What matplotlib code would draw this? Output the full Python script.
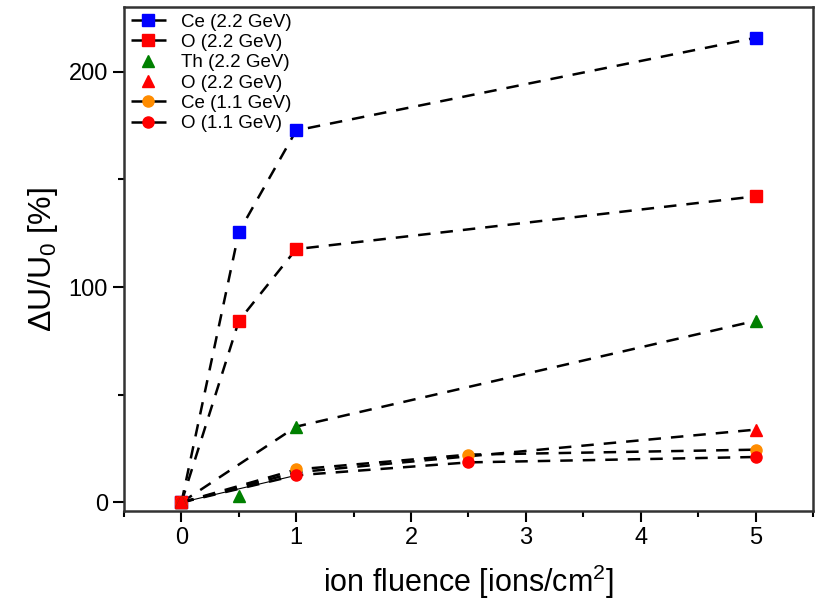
import matplotlib
matplotlib.use('Agg')
import matplotlib.pyplot as plt

plt.rcParams['font.family'] = ['Liberation Sans', 'DejaVu Sans']
plt.rcParams['mathtext.fontset'] = 'custom'
plt.rcParams['mathtext.rm'] = 'Liberation Sans'
plt.rcParams['mathtext.it'] = 'Liberation Sans:italic'

# fluence values and measured change of U (%)
ce22_x = [0, 0.5, 1, 5]
ce22_y = [0, 125.5, 172.7, 215.7]
o22_x = [0, 0.5, 1, 5]
o22_y = [0, 84.3, 117.6, 142.1]
th22_x = [0, 0.5, 1, 5]
th22_y = [0, 2.8, 35.2, 84.3]
o22t_x = [0, 5]
o22t_y = [0, 33.8]
ce11_x = [0, 1, 2.5, 5]
ce11_y = [0, 15.3, 22.2, 24.5]
o11_x = [0, 1, 2.5, 5]
o11_y = [0, 12.6, 18.6, 21.1]

# dashed guide lines for the triangle series
th_fit_x = [0, 1, 5]
th_fit_y = [0, 35.2, 84.3]
o22t_fit_x = [0, 1, 5]
o22t_fit_y = [0, 14.0, 33.8]

fig = plt.figure(figsize=(8.17, 6.15), dpi=100)
ax = fig.add_axes([0.1518, 0.169, 0.8432, 0.8196])

ls = (0, (5, 4))
lw = 1.8

# guide lines behind the markers
ax.plot(th_fit_x, th_fit_y, color='black', linestyle=ls, linewidth=lw, zorder=1)
ax.plot(o22t_fit_x, o22t_fit_y, color='black', linestyle=ls, linewidth=lw, zorder=1)
ax.plot(o11_x[:2], o11_y[:2], color='black', linewidth=0.8, zorder=1)

ax.plot(ce22_x, ce22_y, marker='s', markersize=8, color='black', linestyle=ls, linewidth=lw,
        mfc='#0000ff', mec='#0000ff', label='Ce (2.2 GeV)', zorder=2)
ax.plot(o22_x, o22_y, marker='s', markersize=8, color='black', linestyle=ls, linewidth=lw,
        mfc='#ff0000', mec='#ff0000', label='O (2.2 GeV)', zorder=2)
ax.plot(th22_x, th22_y, marker='^', markersize=9, linestyle='none', color='#008000',
        label='Th (2.2 GeV)', zorder=3)
ax.plot(o22t_x, o22t_y, marker='^', markersize=9, linestyle='none', color='#ff0000',
        label='O (2.2 GeV)', zorder=3)
ax.plot(ce11_x, ce11_y, marker='o', markersize=8, color='black', linestyle=ls, linewidth=lw,
        mfc='#ff8c00', mec='#ff8c00', label='Ce (1.1 GeV)', zorder=2)
ax.plot(o11_x, o11_y, marker='o', markersize=8, color='black', linestyle=ls, linewidth=lw,
        mfc='#ff0000', mec='#ff0000', label='O (1.1 GeV)', zorder=2)

ax.set_xlim(-0.5, 5.5)
ax.set_ylim(-4, 230)
ax.set_xticks([0, 1, 2, 3, 4, 5])
ax.set_xticks([-0.5, 0.5, 1.5, 2.5, 3.5, 4.5, 5.5], minor=True)
ax.set_yticks([0, 100, 200])
ax.set_yticks([50, 150], minor=True)
ax.tick_params(which='both', direction='out', width=1.5, colors='black', labelsize=17)
ax.tick_params(which='major', length=8)
ax.tick_params(which='minor', length=4)
for s in ax.spines.values():
    s.set_linewidth(1.8)
    s.set_color('#333333')

ax.set_xlabel('ion fluence [ions/cm$^2$]', fontsize=22, labelpad=10)
ax.set_ylabel(r'$\Delta$U/U$_0$ [%]', fontsize=23, labelpad=6)

ax.legend(loc='upper left', frameon=False, fontsize=13.5, handlelength=1.9,
          borderaxespad=0.1, labelspacing=0.17, handletextpad=0.8, borderpad=0.25)

fig.savefig('out.png', dpi=100)
